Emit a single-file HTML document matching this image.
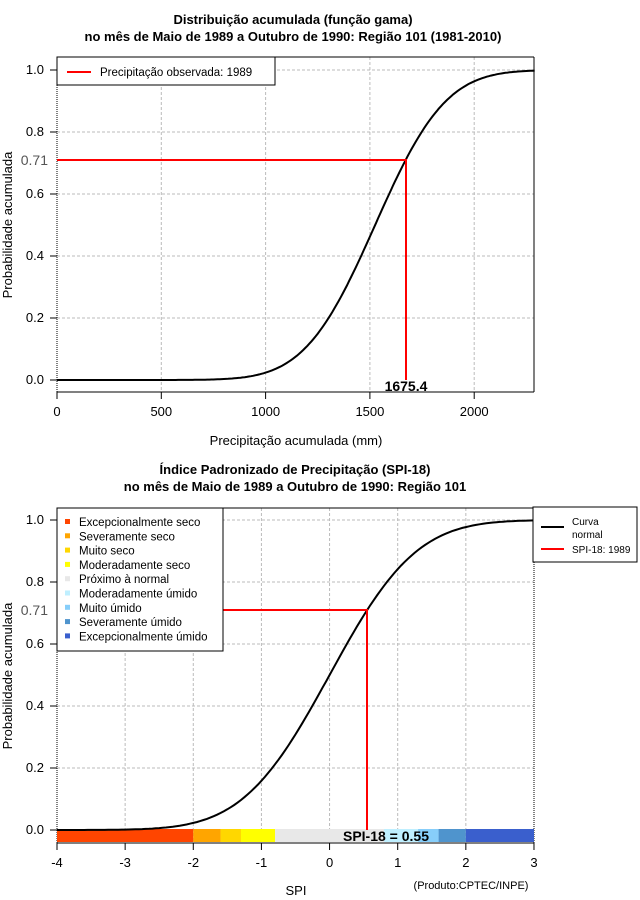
<!DOCTYPE html>
<html><head><meta charset="utf-8"><style>
html,body{margin:0;padding:0;background:#fff}
svg{display:block}
text{font-family:"Liberation Sans",sans-serif;fill:#000}
</style></head><body>
<svg id="s" width="640" height="900" xmlns="http://www.w3.org/2000/svg">
<rect width="640" height="900" fill="#fff"/>
<g font-weight="bold" font-size="13" text-anchor="middle">
<text x="293" y="24">Distribuição acumulada (função gama)</text>
<text x="293" y="41">no mês de Maio de 1989 a Outubro de 1990: Região 101 (1981-2010)</text>
<text x="295" y="474">Índice Padronizado de Precipitação (SPI-18)</text>
<text x="295" y="491">no mês de Maio de 1989 a Outubro de 1990: Região 101</text>
</g>
<g id="grid" stroke="#bbb" stroke-dasharray="3,2" stroke-width="1"></g>
<line x1="57" y1="57" x2="534" y2="57" stroke="#000"/>
<line x1="534" y1="57" x2="534" y2="392" stroke="#000"/>
<line x1="57" y1="57" x2="57" y2="392" stroke="#000" stroke-dasharray="1,1"/>
<line x1="57" y1="392" x2="534" y2="392" stroke="#000"/>
<line x1="57" y1="508" x2="534" y2="508" stroke="#000"/>
<line x1="534" y1="508" x2="534" y2="843" stroke="#000" stroke-dasharray="1,1"/>
<line x1="57" y1="508" x2="57" y2="843" stroke="#000" stroke-dasharray="1,1"/>
<line x1="57" y1="843" x2="534" y2="843" stroke="#000"/>
<g id="bar"></g>
<g id="ticks" stroke="#000"></g>
<g id="lab" font-size="13"></g>
<polyline id="c1" fill="none" stroke="#000" stroke-width="2"/>
<polyline id="c2" fill="none" stroke="#000" stroke-width="2"/>
<polyline points="57,160 406,160 406,380" fill="none" stroke="#f00" stroke-width="2"/>
<polyline points="57,610 367,610 367,830" fill="none" stroke="#f00" stroke-width="2"/>
<text x="406" y="391" font-size="14" font-weight="bold" text-anchor="middle">1675.4</text>
<text x="386" y="841" font-size="14" font-weight="bold" text-anchor="middle">SPI-18 = 0.55</text>
<text x="48" y="165" font-size="14" style="fill:#555" text-anchor="end">0.71</text>
<text x="48" y="615" font-size="14" style="fill:#555" text-anchor="end">0.71</text>
<text transform="translate(12,225) rotate(-90)" font-size="13" text-anchor="middle">Probabilidade acumulada</text>
<text transform="translate(12,676) rotate(-90)" font-size="13" text-anchor="middle">Probabilidade acumulada</text>
<text x="296" y="445" font-size="13" text-anchor="middle">Precipitação acumulada (mm)</text>
<text x="296" y="895" font-size="13" text-anchor="middle">SPI</text>
<text x="471" y="889" font-size="11" text-anchor="middle">(Produto:CPTEC/INPE)</text>
<rect x="57" y="57" width="218" height="28" fill="#fff" stroke="#000"/>
<line x1="67" y1="72" x2="91" y2="72" stroke="#f00" stroke-width="2"/>
<text x="100" y="76" font-size="11.5">Precipitação observada: 1989</text>
<rect x="57" y="508" width="166" height="143" fill="#fff" stroke="#000"/>
<g id="leg" font-size="11.5"></g>
<rect x="533" y="507" width="104" height="55" fill="#fff" stroke="#000"/>
<line x1="541" y1="527" x2="564" y2="527" stroke="#000" stroke-width="2"/>
<line x1="541" y1="549" x2="564" y2="549" stroke="#f00" stroke-width="2"/>
<text x="572" y="525" font-size="10">Curva</text>
<text x="572" y="538" font-size="10">normal</text>
<text x="572" y="553" font-size="10">SPI-18: 1989</text>
</svg>
<script>
var NS="http://www.w3.org/2000/svg";
function el(p,t,a,txt){var e=document.createElementNS(NS,t);for(var k in a)e.setAttribute(k,a[k]);if(txt!==undefined)e.textContent=txt;document.getElementById(p).appendChild(e);return e;}
function cdf(z){var t=1/(1+0.2316419*Math.abs(z));var d=0.3989423*Math.exp(-z*z/2);var p=d*t*(0.3193815+t*(-0.3565638+t*(1.781478+t*(-1.821256+t*1.330274))));return z>0?1-p:p;}
var yT=[1,.8,.6,.4,.2,0];
for(var i=0;i<yT.length;i++){var y=380-yT[i]*310;
 if(yT[i]>0)el("grid","line",{x1:57,y1:y,x2:534,y2:y});
 el("ticks","line",{x1:50,y1:y,x2:57,y2:y});
 el("lab","text",{x:44,y:y+4,"text-anchor":"end"},yT[i].toFixed(1));
 var y2=830-yT[i]*310;
 el("grid","line",{x1:57,y1:y2,x2:534,y2:y2});
 el("ticks","line",{x1:50,y1:y2,x2:57,y2:y2});
 el("lab","text",{x:44,y:y2+4,"text-anchor":"end"},yT[i].toFixed(1));}
for(var v=0;v<=2000;v+=500){var x=57+v*0.2086;
 if(v>0)el("grid","line",{x1:x,y1:57,x2:x,y2:392});
 el("ticks","line",{x1:x,y1:392,x2:x,y2:399});
 el("lab","text",{x:x,y:416,"text-anchor":"middle"},String(v));}
for(var v=-4;v<=3;v++){var x=57+(v+4)*68.14;
 if(v>-4&&v<3)el("grid","line",{x1:x,y1:508,x2:x,y2:843});
 el("ticks","line",{x1:x,y1:843,x2:x,y2:850});
 el("lab","text",{x:x,y:867,"text-anchor":"middle"},String(v));}
var p1=[];for(var mm=0;mm<=2290;mm+=10){p1.push((57+mm*0.2086).toFixed(1)+","+(380-cdf((mm-1525)/265)*310).toFixed(1));}
document.getElementById("c1").setAttribute("points",p1.join(" "));
var p2=[];for(var z=-4;z<=3.001;z+=0.05){p2.push((57+(z+4)*68.14).toFixed(1)+","+(830-cdf(z)*310).toFixed(1));}
document.getElementById("c2").setAttribute("points",p2.join(" "));
var seg=[[-4,-2,"#ff4500"],[-2,-1.6,"#ffa500"],[-1.6,-1.3,"#ffd700"],[-1.3,-0.8,"#ffff00"],[-0.8,0.8,"#e8e8e8"],[0.8,1.3,"#bfefff"],[1.3,1.6,"#87cefa"],[1.6,2,"#4f94cd"],[2,3,"#3a5fcd"]];
for(var i=0;i<seg.length;i++){var a=57+(seg[i][0]+4)*68.14,b=57+(seg[i][1]+4)*68.14;el("bar","rect",{x:a,y:829,width:b-a,height:13,fill:seg[i][2]});}
var nm=["Excepcionalmente seco","Severamente seco","Muito seco","Moderadamente seco","Próximo à normal","Moderadamente úmido","Muito úmido","Severamente úmido","Excepcionalmente úmido"];
for(var i=0;i<9;i++){var y=522+i*14.3;el("leg","rect",{x:65,y:y-3,width:5,height:5,fill:seg[i][2]});el("leg","text",{x:79,y:y+4},nm[i]);}
</script>
</body></html>
